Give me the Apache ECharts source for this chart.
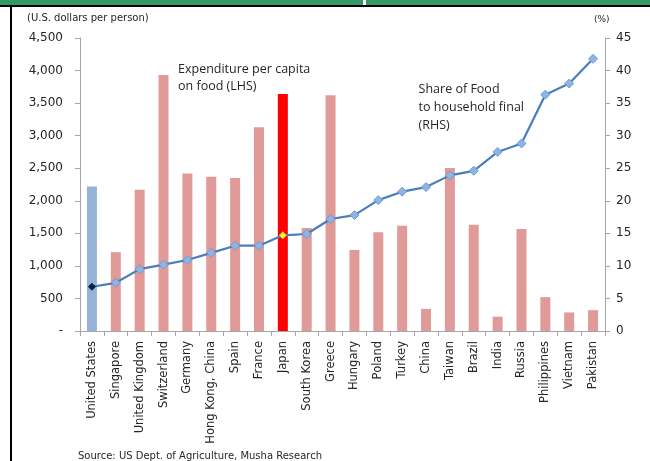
<!DOCTYPE html>
<html>
<head>
<meta charset="utf-8">
<script src="https://cdn.jsdelivr.net/npm/echarts@6/dist/echarts.min.js"></script>
<style>
  html, body { margin: 0; padding: 0; background: #fff; }
  #chart { width: 650px; height: 461px; }
</style>
</head>
<body>
<div id="chart"></div>
<script>
const countries = [
  'United States', 'Singapore', 'United Kingdom', 'Switzerland', 'Germany',
  'Hong Kong, China', 'Spain', 'France', 'Japan', 'South Korea', 'Greece',
  'Hungary', 'Poland', 'Turkey', 'China', 'Taiwan', 'Brazil', 'India',
  'Russia', 'Philippines', 'Vietnam', 'Pakistan'
]
// food expenditure per capita, USD (LHS)
const spending = [
  2220, 1210, 2170, 3930, 2420, 2370, 2350, 3130, 3640, 1580, 3620,
  1245, 1515, 1615, 340, 2505, 1630, 220, 1565, 520, 285, 320
]
// share of food in household final consumption, % (RHS)
const foodShare = [
  6.8, 7.4, 9.5, 10.2, 10.9, 12.0, 13.1, 13.1, 14.7, 14.9, 17.2,
  17.8, 20.1, 21.4, 22.1, 23.9, 24.6, 27.5, 28.8, 36.3, 38.0, 41.8
]

const BAR_PINK = '#e09b99'
const LINE_BLUE = '#4a7ebb'
const AXIS_GREY = '#a6a6a6'
const TEXT = '#262626'

function barColor(name) {
  if (name === 'United States') return '#95b3d7'
  if (name === 'Japan') return '#ff0000'
  return BAR_PINK
}

function markerStyle(name) {
  if (name === 'United States') return { symbolSize: 7, itemStyle: { color: '#0b1f4d', borderColor: '#0b1f4d', borderWidth: 1 } }
  if (name === 'Japan') return { symbolSize: 7, itemStyle: { color: '#ffff00', borderColor: '#c9c96a', borderWidth: 1 } }
  return null
}

const chart = echarts.init(document.getElementById('chart'))

chart.setOption({
  animation: false,
  backgroundColor: '#fff',
  textStyle: { fontFamily: 'DejaVu Sans' },
  grid: { left: 80, right: 45, top: 38, bottom: 130, containLabel: false },
  xAxis: {
    type: 'category',
    data: countries,
    boundaryGap: true,
    axisLine: { lineStyle: { color: AXIS_GREY, width: 1 } },
    axisTick: { show: true, length: 5, inside: false, lineStyle: { color: AXIS_GREY } },
    axisLabel: {
      interval: 0, rotate: 90, color: TEXT, fontSize: 11.5, margin: 10,
      fontFamily: 'DejaVu Sans'
    }
  },
  yAxis: [
    {
      type: 'value', min: 0, max: 4500, interval: 500,
      axisLine: { show: true, lineStyle: { color: AXIS_GREY } },
      axisTick: { show: true, length: 5, lineStyle: { color: AXIS_GREY } },
      splitLine: { show: false },
      axisLabel: {
        color: TEXT, fontSize: 12, margin: 17,
        formatter: v => v === 0 ? '-' : v.toLocaleString('en-US')
      }
    },
    {
      type: 'value', min: 0, max: 45, interval: 5, position: 'right',
      axisLine: { show: true, lineStyle: { color: AXIS_GREY } },
      axisTick: { show: true, length: 5, lineStyle: { color: AXIS_GREY } },
      splitLine: { show: false },
      axisLabel: { color: TEXT, fontSize: 12, margin: 11 }
    }
  ],
  series: [
    {
      name: 'Expenditure per capita on food (LHS)',
      type: 'bar',
      yAxisIndex: 0,
      barWidth: 10,
      data: spending.map((v, i) => ({ value: v, itemStyle: { color: barColor(countries[i]) } }))
    },
    {
      name: 'Share of Food to household final (RHS)',
      type: 'line',
      yAxisIndex: 1,
      symbol: 'diamond',
      symbolSize: 9,
      lineStyle: { color: LINE_BLUE, width: 2.2 },
      itemStyle: { color: '#8db4e2', borderColor: '#6f9bd1', borderWidth: 1 },
      data: foodShare.map((v, i) => {
        const s = markerStyle(countries[i])
        return s ? Object.assign({ value: v }, s) : { value: v }
      }),
      z: 5
    }
  ],
  graphic: [
    { type: 'rect', left: 0, top: 0, shape: { width: 650, height: 5 }, style: { fill: '#339966' }, silent: true },
    { type: 'rect', left: 363, top: 0, shape: { width: 3, height: 5 }, style: { fill: '#ffffff' }, silent: true },
    { type: 'rect', left: 0, top: 5, shape: { width: 650, height: 2 }, style: { fill: '#000' }, silent: true },
    { type: 'rect', left: 10, top: 5, shape: { width: 2, height: 456 }, style: { fill: '#000' }, silent: true },
    {
      type: 'text', left: 27, top: 13,
      style: { text: '(U.S. dollars per person)', fill: TEXT, font: '10px "DejaVu Sans"' }
    },
    {
      type: 'text', left: 594, top: 15,
      style: { text: '(%)', fill: TEXT, font: '9px "DejaVu Sans"' }
    },
    {
      type: 'text', left: 178, top: 61,
      style: { text: 'Expenditure per capita\non food (LHS)', fill: TEXT, font: '12.5px "Open Sans"', lineHeight: 17 }
    },
    {
      type: 'text', right: 126, top: 80,
      style: { text: 'Share of Food\nto household final\n(RHS)', fill: TEXT, font: '12.5px "Open Sans"', lineHeight: 18, align: 'right' }
    },
    {
      type: 'text', left: 78, top: 451,
      style: { text: 'Source: US Dept. of Agriculture, Musha Research', fill: TEXT, font: '10px "DejaVu Sans"' }
    }
  ]
})
</script>
</body>
</html>
